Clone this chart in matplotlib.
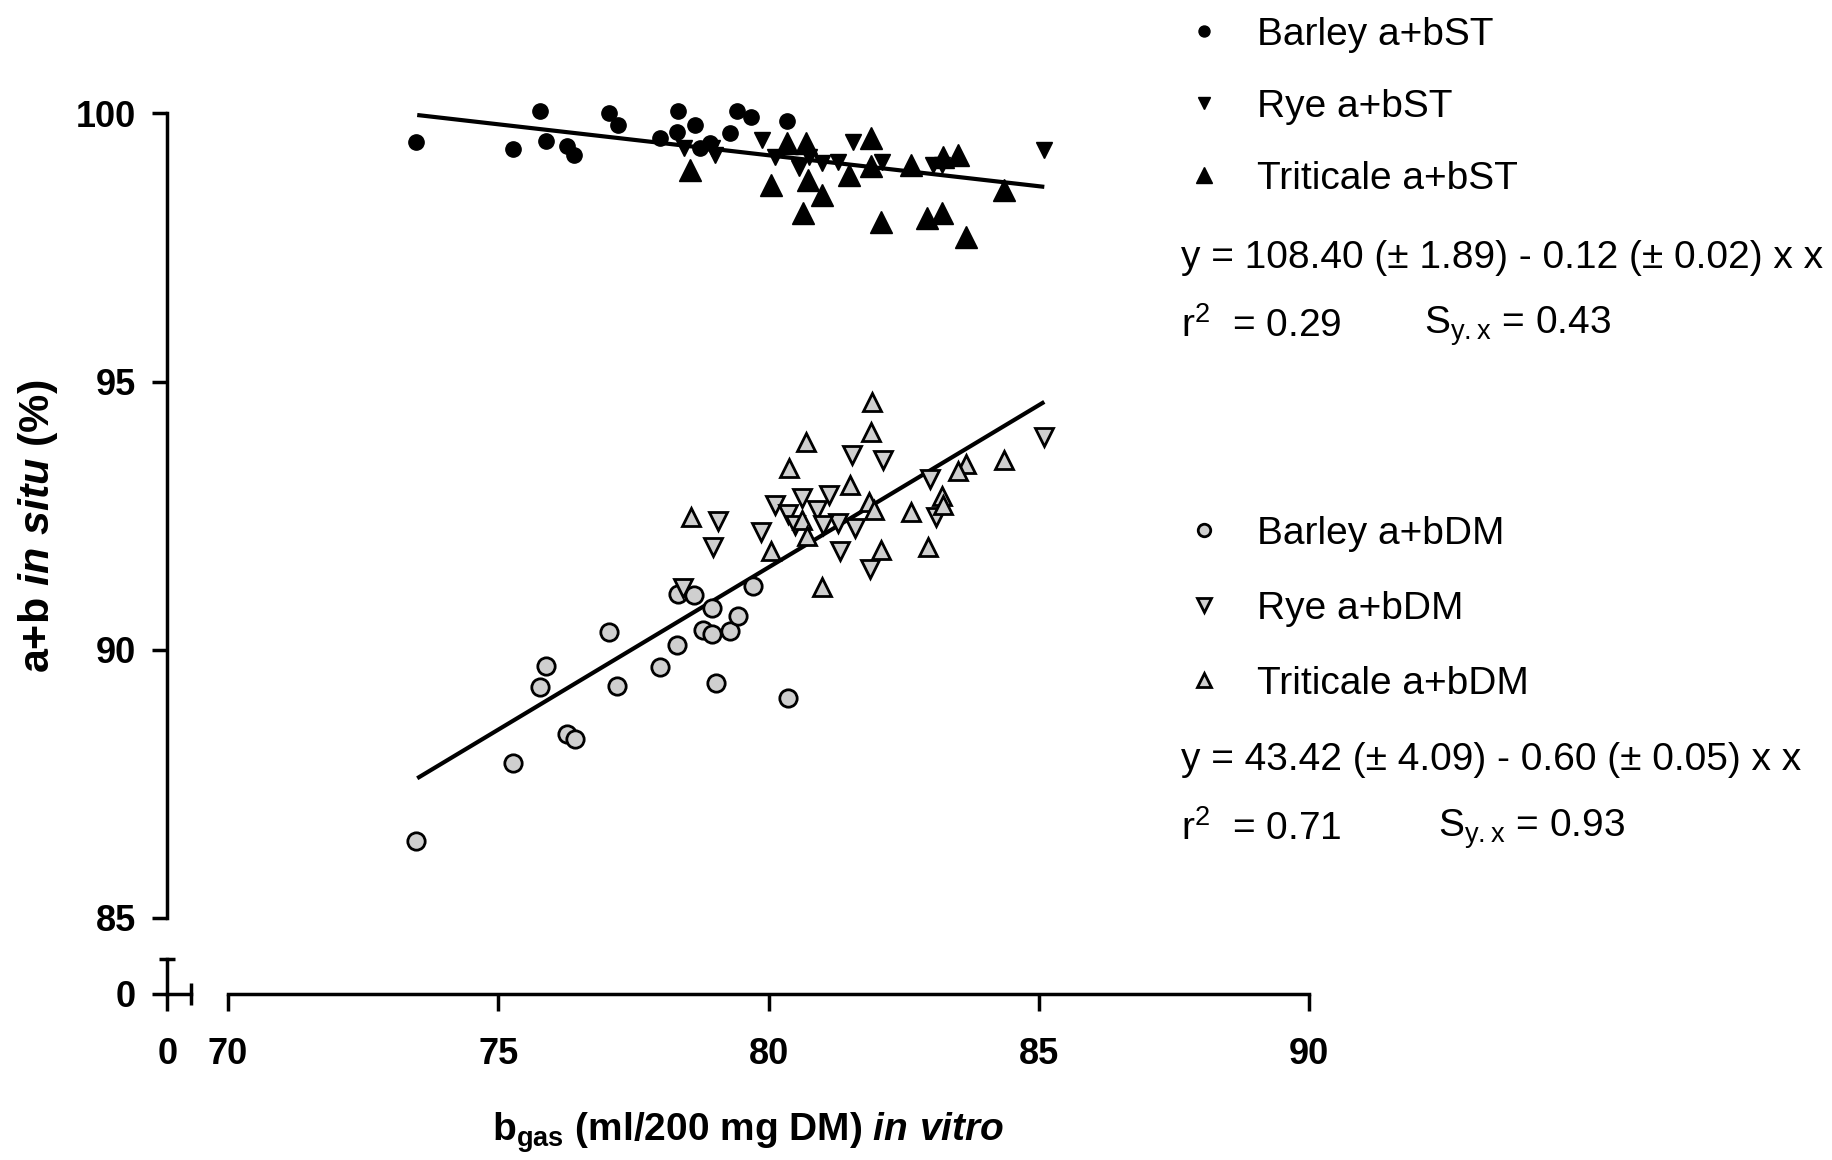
import matplotlib
matplotlib.use('Agg')
import matplotlib.pyplot as plt

# ---------------- data ----------------
barley_st_x = [73.47, 75.27, 75.77, 75.88, 76.28, 76.40, 77.04, 77.21, 78.00, 78.33,
               78.30, 78.63, 78.74, 79.29, 79.42, 79.68, 80.34, 78.92]
barley_st_y = [99.46, 99.33, 100.05, 99.49, 99.39, 99.22, 100.00, 99.78, 99.55, 100.05,
               99.66, 99.78, 99.35, 99.63, 100.05, 99.93, 99.85, 99.44]

rye_st_x = [78.43, 78.96, 79.00, 79.87, 80.12, 80.74, 80.56, 81.28, 80.99, 81.57,
            82.10, 83.05, 83.20, 85.09]
rye_st_y = [99.35, 99.35, 99.22, 99.50, 99.19, 99.19, 98.98, 99.10, 99.07, 99.47,
            99.10, 99.04, 99.04, 99.32]

triticale_st_x = [78.55, 80.04, 80.34, 80.70, 80.72, 80.99, 80.64, 81.48, 81.90, 81.90,
                  82.08, 82.64, 82.93, 83.20, 83.22, 83.51, 83.65, 84.36]
triticale_st_y = [98.94, 98.66, 99.44, 99.44, 98.76, 98.48, 98.14, 98.85, 99.54, 99.01,
                  97.98, 99.04, 98.04, 98.14, 99.19, 99.22, 97.70, 98.57]

barley_dm_x = [73.48, 75.28, 76.28, 76.42, 75.77, 75.88, 77.20, 77.04, 77.99, 78.31,
               79.03, 80.36, 78.78, 78.95, 79.29, 79.44, 78.96, 79.71, 78.33, 78.62]
barley_dm_y = [86.43, 87.89, 88.43, 88.34, 89.31, 89.70, 89.33, 90.33, 89.68, 90.09,
               89.38, 89.10, 90.37, 90.29, 90.35, 90.63, 90.78, 91.19, 91.04, 91.02]

rye_dm_x = [85.09, 81.55, 82.12, 82.99, 81.11, 80.62, 80.12, 80.89, 80.35, 81.28,
            80.49, 81.01, 81.59, 79.86, 79.07, 78.98, 83.09, 81.32, 81.88, 78.41]
rye_dm_y = [93.97, 93.63, 93.54, 93.19, 92.88, 92.82, 92.70, 92.60, 92.53, 92.36,
            92.32, 92.32, 92.26, 92.19, 92.40, 91.92, 92.48, 91.83, 91.51, 91.14]

triticale_dm_x = [81.91, 81.89, 80.70, 80.37, 81.50, 83.65, 83.51, 84.36, 83.21, 83.22,
                  81.86, 81.95, 82.64, 78.57, 80.62, 80.71, 80.04, 82.08, 82.94, 80.99]
triticale_dm_y = [94.62, 94.06, 93.88, 93.39, 93.07, 93.47, 93.34, 93.54, 92.86, 92.70,
                  92.76, 92.60, 92.57, 92.48, 92.42, 92.11, 91.83, 91.86, 91.91, 91.17]

st_line_x = [73.5, 85.1]
st_line_y = [99.97, 98.63]
dm_line_x = [73.5, 85.1]
dm_line_y = [87.60, 94.62]

labels_st = ['Barley a+bST', 'Rye a+bST', 'Triticale a+bST']
labels_dm = ['Barley a+bDM', 'Rye a+bDM', 'Triticale a+bDM']

eq_st = 'y = 108.40 (\u00b1 1.89) - 0.12 (\u00b1 0.02) x x'
r2_st = '0.29'
syx_st = '0.43'
eq_dm = 'y = 43.42 (\u00b1 4.09) - 0.60 (\u00b1 0.05) x x'
r2_dm = '0.71'
syx_dm = '0.93'

xticks = [70, 75, 80, 85, 90]
yticks = [85, 90, 95, 100]
break_xticks = [0]
break_yticks = [0]

# ---------------- style ----------------
FONT = 'Liberation Sans'
plt.rcParams['font.family'] = [FONT, 'DejaVu Sans']
plt.rcParams['mathtext.fontset'] = 'custom'
plt.rcParams['mathtext.rm'] = 'Liberation Sans:bold'
plt.rcParams['mathtext.it'] = 'Liberation Sans:italic:bold'
plt.rcParams['mathtext.bf'] = 'Liberation Sans:bold'
plt.rcParams['mathtext.sf'] = 'Liberation Sans'

W, H = 1833, 1160
fig = plt.figure(figsize=(W / 100, H / 100), dpi=100)
fig.patch.set_facecolor('white')


def fx(px):
    return px / W


def fy(py):
    return 1 - py / H


# pixel calibration of the main panel
X0_PX, XPU = 228.0, 54.06   # pixel of x=70, pixels per unit
Y0_PX, YPU = 113.4, 53.62   # pixel (from top) of y=100, pixels per unit
xlim = (68.5, 90.6)
ylim = (83.2, 100.7)
left = X0_PX + (xlim[0] - 70) * XPU
right = X0_PX + (xlim[1] - 70) * XPU
top = Y0_PX + (100 - ylim[1]) * YPU
bottom = Y0_PX + (100 - ylim[0]) * YPU

ax = fig.add_axes([fx(left), fy(bottom), (right - left) / W, (bottom - top) / H])
ax.set_xlim(*xlim)
ax.set_ylim(*ylim)
ax.patch.set_visible(False)

LW = 2.5
yspine_px = 167.2
xspine_px = 993.7
yspine_x = 70 + (yspine_px - X0_PX) / XPU
xspine_y = 100 - (xspine_px - Y0_PX) / YPU

for s in ['top', 'right']:
    ax.spines[s].set_visible(False)
ax.spines['left'].set_position(('data', yspine_x))
ax.spines['left'].set_bounds(85, 100)
ax.spines['bottom'].set_position(('data', xspine_y))
ax.spines['bottom'].set_bounds(70, 90)
for s in ['left', 'bottom']:
    ax.spines[s].set_linewidth(LW)
    ax.spines[s].set_capstyle('projecting')

ax.set_xticks(xticks)
ax.set_xticklabels([str(v) for v in xticks])
ax.set_yticks(yticks)
ax.set_yticklabels([str(v) for v in yticks])
ax.set_xticks([xticks[0]], minor=True)
ax.set_yticks([yticks[0]], minor=True)
ax.tick_params(which='major', direction='out', width=LW, labelsize=26)
ax.tick_params(axis='x', which='major', length=12, pad=19)
ax.tick_params(axis='y', which='major', length=10.5, pad=12)
ax.tick_params(axis='x', which='minor', direction='inout', length=14, width=LW)
ax.tick_params(axis='y', which='minor', direction='inout', length=18, width=LW)
for lab in ax.get_xticklabels() + ax.get_yticklabels():
    lab.set_fontweight('bold')

# regression lines
ax.plot(st_line_x, st_line_y, color='black', lw=3.0, solid_capstyle='butt', zorder=2)
ax.plot(dm_line_x, dm_line_y, color='black', lw=3.0, solid_capstyle='butt', zorder=2)

GREY = '#cfcfcf'
h1 = ax.plot(barley_st_x, barley_st_y, 'o', ls='none', color='black', ms=11,
             label=labels_st[0], zorder=3)[0]
h2 = ax.plot(rye_st_x, rye_st_y, 'v', ls='none', color='black', ms=12,
             label=labels_st[1], zorder=3)[0]
h3 = ax.plot(triticale_st_x, triticale_st_y, '^', ls='none', color='black', ms=16,
             label=labels_st[2], zorder=3)[0]
h4 = ax.plot(barley_dm_x, barley_dm_y, 'o', ls='none', mfc=GREY, mec='black', mew=2.0,
             ms=12.5, label=labels_dm[0], zorder=3)[0]
h5 = ax.plot(rye_dm_x, rye_dm_y, 'v', ls='none', mfc=GREY, mec='black', mew=2.0,
             ms=13.5, label=labels_dm[1], zorder=3)[0]
h6 = ax.plot(triticale_dm_x, triticale_dm_y, '^', ls='none', mfc=GREY, mec='black', mew=2.0,
             ms=13.5, label=labels_dm[2], zorder=3)[0]

# ---------------- broken-axis stub near the origin ----------------
ax0 = fig.add_axes([fx(yspine_px), fy(xspine_px), (190.5 - yspine_px) / W, (xspine_px - 958.6) / H])
ax0.set_xlim(0, 1)
ax0.set_ylim(0, 1)
ax0.patch.set_visible(False)
for s in ['top', 'right']:
    ax0.spines[s].set_visible(False)
for s in ['left', 'bottom']:
    ax0.spines[s].set_linewidth(LW)
    ax0.spines[s].set_capstyle('projecting')
ax0.set_xticks(break_xticks)
ax0.set_xticklabels([str(v) for v in break_xticks])
ax0.set_yticks(break_yticks)
ax0.set_yticklabels([str(v) for v in break_yticks])
ax0.set_xticks([1], minor=True)
ax0.set_yticks([1], minor=True)
ax0.tick_params(which='major', direction='out', width=LW, labelsize=26)
ax0.tick_params(axis='x', which='major', length=12, pad=19)
ax0.tick_params(axis='y', which='major', length=10.5, pad=12)
ax0.tick_params(axis='x', which='minor', direction='inout', length=16, width=LW)
ax0.tick_params(axis='y', which='minor', direction='inout', length=12, width=LW)
for lab in ax0.get_xticklabels() + ax0.get_yticklabels():
    lab.set_fontweight('bold')

# ---------------- axis titles ----------------
fig.text(fx(748), fy(1133), r'b$_{\mathrm{gas}}$ (ml/200 mg DM) $\mathit{in\ vitro}$',
         ha='center', va='center', fontsize=28, fontweight='bold')
fig.text(fx(38), fy(526), r'a+b $\mathit{in\ situ}$ (%)', rotation=90,
         ha='center', va='center', fontsize=31, fontweight='bold')

# ---------------- legends and equations ----------------
leg_kw = dict(loc='upper left', bbox_transform=fig.transFigure, frameon=False, fontsize=28,
              borderpad=0, borderaxespad=0, handlelength=1.0, handletextpad=0.86,
              markerscale=0.72)
fig.legend(handles=[h1, h2, h3], bbox_to_anchor=(fx(1184.6), fy(17)),
           labelspacing=0.92, **leg_kw)
fig.legend(handles=[h4, h5, h6], bbox_to_anchor=(fx(1184.6), fy(516)),
           labelspacing=1.0, **leg_kw)

TXT = dict(fontsize=28, va='center', ha='left')
fig.text(fx(1181), fy(258), eq_st, **TXT)
fig.text(fx(1181), fy(326), r'$\mathsf{r}^{\mathsf{2}}$  = ' + r2_st, **TXT)
fig.text(fx(1424), fy(326), r'$\mathsf{S}_{\mathsf{y.x}}$ = ' + syx_st, **TXT)
fig.text(fx(1181), fy(760), eq_dm, **TXT)
fig.text(fx(1181), fy(829), r'$\mathsf{r}^{\mathsf{2}}$  = ' + r2_dm, **TXT)
fig.text(fx(1438), fy(829), r'$\mathsf{S}_{\mathsf{y.x}}$ = ' + syx_dm, **TXT)

fig.savefig('out.png', dpi=100, facecolor='white')
